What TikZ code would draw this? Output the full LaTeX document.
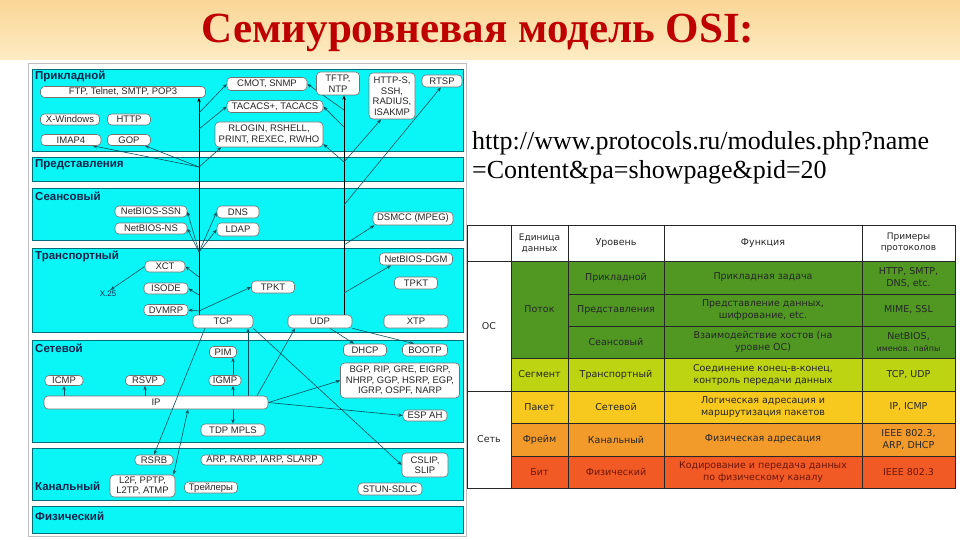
\documentclass[tikz,border=0pt]{standalone}
\usepackage{fontspec}
\setmainfont{Liberation Serif}
\newfontfamily\arialf{Liberation Sans}
\newfontfamily\verd{DejaVu Sans}
\usetikzlibrary{arrows.meta,calc}
\pgfdeclarelayer{back}
\pgfdeclarelayer{mid}
\pgfsetlayers{back,mid,main}
\definecolor{bandcyan}{RGB}{10,245,245}
\definecolor{bandedge}{RGB}{0,110,120}
\definecolor{lblnavy}{RGB}{15,35,75}
\definecolor{connc}{RGB}{5,80,95}
\definecolor{titlered}{RGB}{190,0,0}
\definecolor{bannertop}{RGB}{250,214,150}
\definecolor{bannerbot}{RGB}{253,236,196}
\definecolor{tgreen}{RGB}{80,152,34}
\definecolor{tlime}{RGB}{188,212,18}
\definecolor{tyellow}{RGB}{247,200,30}
\definecolor{torange}{RGB}{243,155,42}
\definecolor{tred}{RGB}{241,90,36}
\definecolor{redtext}{RGB}{110,22,10}
\tikzset{
  band/.style={fill=bandcyan, draw=bandedge, line width=0.7pt},
  bandlbl/.style={anchor=west, font=\arialf\bfseries\fontsize{11.5}{13}\selectfont, text=lblnavy, inner sep=0pt},
  proto/.style={draw=black!55, fill=white, rounded corners=4pt, line width=0.6pt, inner sep=0pt, align=center, font=\arialf\fontsize{9.5}{10.5}\selectfont, text=black!85},
  conn/.style={draw=connc, line width=0.6pt, -{Stealth[length=4.5pt,width=3.5pt]}},
  conn2/.style={draw=connc, line width=0.6pt, {Stealth[length=4.5pt,width=3.5pt]}-{Stealth[length=4.5pt,width=3.5pt]}},
  vline/.style={draw=black, line width=0.9pt, -{Stealth[length=4.5pt,width=3.5pt]}},
  cell/.style={draw=black!85, line width=0.8pt, inner sep=0pt, align=center, font=\verd\fontsize{9.5}{12}\selectfont, text=black!85},
}
\begin{document}
\begin{tikzpicture}[x=1pt,y=-1pt]
\useasboundingbox (0,0) rectangle (960,540);
\begin{pgfonlayer}{back}
\fill[white] (0,0) rectangle (960,540);
\shade[top color=bannertop, bottom color=bannerbot] (0,0) rectangle (960,60);
\draw[black!25] (28,63) rectangle (466,536);
\draw[band] (32,69) rectangle (463,151);
\draw[band] (32,157) rectangle (463,181);
\draw[band] (32,188) rectangle (463,240);
\draw[band] (32,248) rectangle (463,332);
\draw[band] (32,340) rectangle (463,442);
\draw[band] (32,448) rectangle (463,500);
\draw[band] (32,506) rectangle (463,533);
\end{pgfonlayer}
% title
\node[font=\bfseries\fontsize{43}{48}\selectfont, text=titlered] (title) at (478,33) {Семиуровневая модель OSI:};

% URL
\node[anchor=west, inner sep=0pt, font=\fontsize{26}{30}\selectfont] (url1) at (472,143) {http://www.protocols.ru/modules.php?name};
\node[anchor=west, inner sep=0pt, font=\fontsize{26}{30}\selectfont] (url2) at (472,172) {=Content\&pa=showpage\&pid=20};

\node[bandlbl] (lapp) at (35,76) {Прикладной};
\node[bandlbl] (lpres) at (35,165) {Представления};
\node[bandlbl] (lsess) at (35,196) {Сеансовый};
\node[bandlbl] (ltrans) at (35,256) {Транспортный};
\node[bandlbl] (lnet) at (35,348) {Сетевой};
\node[bandlbl] (llink) at (35,486) {Канальный};
\node[bandlbl] (lphys) at (35,516) {Физический};

% application
\node[proto, minimum width=165pt, minimum height=11pt] (ftp) at (123,92) {FTP, Telnet, SMTP, POP3};
\node[proto, minimum width=59pt, minimum height=11pt] (xwin) at (70,119.5) {X-Windows};
\node[proto, minimum width=43pt, minimum height=11pt] (http) at (129,119.5) {HTTP};
\node[proto, minimum width=60pt, minimum height=11pt] (imap) at (71,140) {IMAP4};
\node[proto, minimum width=43pt, minimum height=11pt] (gop) at (129,140) {GOP};
\node[proto, minimum width=80pt, minimum height=13pt] (cmot) at (267,84) {CMOT, SNMP};
\node[proto, minimum width=96pt, minimum height=12pt] (tacacs) at (275,106.5) {TACACS+, TACACS};
\node[proto, minimum width=108pt, minimum height=25pt] (rlogin) at (269,134.5) {RLOGIN, RSHELL,\\PRINT, REXEC, RWHO};
\node[proto, minimum width=43pt, minimum height=23pt] (tftp) at (338,83.5) {TFTP,\\NTP};
\node[proto, minimum width=46pt, minimum height=46pt] (https) at (392,96) {HTTP-S,\\SSH,\\RADIUS,\\ISAKMP};
\node[proto, minimum width=40pt, minimum height=12pt] (rtsp) at (442,81) {RTSP};
% session
\node[proto, minimum width=72pt, minimum height=11pt] (nbssn) at (151,211.5) {NetBIOS-SSN};
\node[proto, minimum width=72pt, minimum height=11pt] (nbns) at (151,228.5) {NetBIOS-NS};
\node[proto, minimum width=42pt, minimum height=12pt] (dns) at (238,212) {DNS};
\node[proto, minimum width=42pt, minimum height=13pt] (ldap) at (238,229.5) {LDAP};
\node[proto, minimum width=80pt, minimum height=13pt] (dsmcc) at (413,218.5) {DSMCC (MPEG)};
% transport
\node[proto, minimum width=40pt, minimum height=11pt] (xct) at (165,266.5) {XCT};
\node[proto, minimum width=44pt, minimum height=11pt] (isode) at (166,288.5) {ISODE};
\node[proto, minimum width=44pt, minimum height=11pt] (lvmrp) at (166,310) {DVMRP};
\node[inner sep=1pt, font=\arialf\fontsize{8}{9}\selectfont, text=lblnavy] (x25) at (108,294) {X.25};
\node[proto, minimum width=60pt, minimum height=13pt] (tcp) at (223,321.5) {TCP};
\node[proto, minimum width=64pt, minimum height=13pt] (udp) at (320,321.5) {UDP};
\node[proto, minimum width=64pt, minimum height=13pt] (xtp) at (416,321.5) {XTP};
\node[proto, minimum width=43pt, minimum height=12pt] (tpkt1) at (273,287) {TPKT};
\node[proto, minimum width=73pt, minimum height=12pt] (nbdgm) at (416,259) {NetBIOS-DGM};
\node[proto, minimum width=43pt, minimum height=12pt] (tpkt2) at (416,283) {TPKT};
% network
\node[proto, minimum width=27pt, minimum height=11pt] (pim) at (223,352) {PIM};
\node[proto, minimum width=38pt, minimum height=10pt] (icmp) at (64,380.5) {ICMP};
\node[proto, minimum width=39pt, minimum height=10pt] (rsvp) at (145,380.5) {RSVP};
\node[proto, minimum width=32pt, minimum height=10pt] (igmp) at (225,380.5) {IGMP};
\node[proto, minimum width=224pt, minimum height=13pt] (ip) at (156,402.5) {IP};
\node[proto, minimum width=43pt, minimum height=12pt] (dhcp) at (365,350) {DHCP};
\node[proto, minimum width=45pt, minimum height=12pt] (bootp) at (425,350) {BOOTP};
\node[proto, minimum width=119pt, minimum height=35pt] (bgp) at (400,380.5) {BGP, RIP, GRE, EIGRP,\\NHRP, GGP, HSRP, EGP,\\IGRP, OSPF, NARP};
\node[proto, minimum width=44pt, minimum height=11pt] (esp) at (425,415.5) {ESP AH};
\node[proto, minimum width=64pt, minimum height=12pt] (tdp) at (233,430) {TDP MPLS};
% link
\node[proto, minimum width=38pt, minimum height=10pt] (rsrb) at (154,460) {RSRB};
\node[proto, minimum width=65pt, minimum height=22pt] (l2f) at (142.5,486) {L2F, PPTP,\\L2TP, ATMP};
\node[proto, minimum width=53pt, minimum height=11pt] (trail) at (211,487.5) {Трейлеры};
\node[proto, minimum width=122pt, minimum height=10pt] (arp) at (262,460) {ARP, RARP, IARP, SLARP};
\node[proto, minimum width=46pt, minimum height=24pt] (cslip) at (425,465) {CSLIP,\\SLIP};
\node[proto, minimum width=64pt, minimum height=12pt] (stun) at (390,489) {STUN-SDLC};

% connectors
\begin{pgfonlayer}{mid}
\coordinate (va) at (199,315);
\coordinate (vb) at (344,315);
\draw[vline] (va) -- (va |- ftp.south);
\draw[vline] (vb) -- (vb |- tftp.south);
\coordinate (a1) at (199,113);
\coordinate (a2) at (199,129);
\coordinate (a3) at (199,167);
\coordinate (b1) at (344,110);
\coordinate (b2) at (344,127);
\coordinate (b3) at (344,162);
\coordinate (b4) at (344,205);
\coordinate (b5) at (344,245);
\coordinate (b6) at (344,293);
\coordinate (c1) at (199,252);
\coordinate (d1) at (199,277);
\coordinate (d2) at (199,295);
\coordinate (d3) at (199,311);
\draw[conn] (a1) -- (cmot.west);
\draw[conn] (a2) -- (tacacs.west);
\draw[conn] (a3) -- (rlogin.195);
\draw[conn] (a3) -- (imap.-15);
\draw[conn] (a3) -- (gop.-20);
\draw[conn] (b1) -- (cmot.east);
\draw[conn] (b2) -- (tacacs.east);
\draw[conn] (b3) -- (rlogin.-10);
\draw[conn] (b3) -- (https.-115);
\draw[conn] (b4) -- (rtsp.-100);
\draw[conn] (b5) -- (dsmcc.190);
\draw[conn] (b6) -- ([xshift=12pt]nbdgm.south west);
\draw[conn] (c1) -- (nbssn.east);
\draw[conn] (c1) -- (nbns.east);
\draw[conn] (c1) -- (dns.west);
\draw[conn] (c1) -- (ldap.west);
\draw[conn] (d1) -- (xct.east);
\draw[conn] (d2) -- (isode.east);
\draw[conn] (d3) -- (lvmrp.east);
\draw[conn] (d3) -- (tpkt1.west);
\draw[conn] (xct.west) -- (x25.60);
\draw[conn] (ip.north -| icmp) -- (icmp.south);
\draw[conn] (ip.north -| rsvp) -- (rsvp.south);
\draw[conn] (ip.north -| tdp) -- (igmp.south -| tdp);
\draw[conn] (igmp.north -| tdp) -- (pim.south -| tdp);
\draw[conn] (ip.south -| tdp) -- (tdp.north);
\coordinate (tcpx) at ([xshift=25pt]tcp.south);
\draw[conn] (ip.north -| tcpx) -- (tcpx);
\draw[conn] ([xshift=101pt]ip.north) -- ([xshift=-25pt]udp.south);
\draw[conn] ([xshift=10pt]udp.south) -- (dhcp.150);
\draw[conn] (udp.south east) -- (bootp.150);
\draw[conn] (tcp.south east) -- (cslip.west);
\draw[conn] (ip.east) -- (bgp.west);
\draw[conn] (ip.east) -- (esp.west);
\draw[conn2] ([xshift=32pt]ip.south) -- (l2f.20);
\end{pgfonlayer}
\draw[conn] ([xshift=-18pt]tcp.south) -- (rsrb.north);

% table
\node[cell, minimum width=44pt, minimum height=36pt, fill=white] (hblank) at (489,243) {};
\node[cell, minimum width=57pt, minimum height=36pt, fill=white, font=\verd\fontsize{9}{11}\selectfont] (hunit) at (539.5,243) {Единица\\данных};
\node[cell, minimum width=96pt, minimum height=36pt, fill=white] (hlevel) at (616,243) {Уровень};
\node[cell, minimum width=198pt, minimum height=36pt, fill=white] (hfunc) at (763,243) {Функция};
\node[cell, minimum width=93pt, minimum height=36pt, fill=white, font=\verd\fontsize{9}{11}\selectfont] (hex) at (908.5,243) {Примеры\\протоколов};

\node[cell, minimum width=44pt, minimum height=130pt, fill=white] (os) at (489,326) {ОС};
\node[cell, minimum width=57pt, minimum height=97pt, fill=tgreen] (potok) at (539.5,309.5) {Поток};
\node[cell, minimum width=96pt, minimum height=33pt, fill=tgreen] (l1) at (616,277.5) {Прикладной};
\node[cell, minimum width=198pt, minimum height=33pt, fill=tgreen] (f1) at (763,277.5) {Прикладная задача};
\node[cell, minimum width=93pt, minimum height=33pt, fill=tgreen] (e1) at (908.5,277.5) {HTTP, SMTP,\\DNS, etc.};
\node[cell, minimum width=96pt, minimum height=32pt, fill=tgreen] (l2) at (616,310) {Представления};
\node[cell, minimum width=198pt, minimum height=32pt, fill=tgreen] (f2) at (763,310) {Представление данных,\\шифрование, etc.};
\node[cell, minimum width=93pt, minimum height=32pt, fill=tgreen] (e2) at (908.5,310) {MIME, SSL};
\node[cell, minimum width=96pt, minimum height=32pt, fill=tgreen] (l3) at (616,342) {Сеансовый};
\node[cell, minimum width=198pt, minimum height=32pt, fill=tgreen] (f3) at (763,342) {Взаимодействие хостов (на\\уровне ОС)};
\node[cell, minimum width=93pt, minimum height=32pt, fill=tgreen] (e3) at (908.5,342) {NetBIOS,\\{\fontsize{8}{10}\selectfont именов. пайпы}};
\node[cell, minimum width=57pt, minimum height=33pt, fill=tlime] (segm) at (539.5,374.5) {Сегмент};
\node[cell, minimum width=96pt, minimum height=33pt, fill=tlime] (l4) at (616,374.5) {Транспортный};
\node[cell, minimum width=198pt, minimum height=33pt, fill=tlime] (f4) at (763,374.5) {Соединение конец-в-конец,\\контроль передачи данных};
\node[cell, minimum width=93pt, minimum height=33pt, fill=tlime] (e4) at (908.5,374.5) {TCP, UDP};

\node[cell, minimum width=44pt, minimum height=97pt, fill=white] (set) at (489,439.5) {Сеть};
\node[cell, minimum width=57pt, minimum height=32pt, fill=tyellow] (paket) at (539.5,407) {Пакет};
\node[cell, minimum width=96pt, minimum height=32pt, fill=tyellow] (l5) at (616,407) {Сетевой};
\node[cell, minimum width=198pt, minimum height=32pt, fill=tyellow] (f5) at (763,407) {Логическая адресация и\\маршрутизация пакетов};
\node[cell, minimum width=93pt, minimum height=32pt, fill=tyellow] (e5) at (908.5,407) {IP, ICMP};
\node[cell, minimum width=57pt, minimum height=33pt, fill=torange] (freim) at (539.5,439.5) {Фрейм};
\node[cell, minimum width=96pt, minimum height=33pt, fill=torange] (l6) at (616,439.5) {Канальный};
\node[cell, minimum width=198pt, minimum height=33pt, fill=torange] (f6) at (763,439.5) {Физическая адресация};
\node[cell, minimum width=93pt, minimum height=33pt, fill=torange] (e6) at (908.5,439.5) {IEEE 802.3,\\ARP, DHCP};
\node[cell, minimum width=57pt, minimum height=32pt, fill=tred, text=redtext] (bit) at (539.5,472) {Бит};
\node[cell, minimum width=96pt, minimum height=32pt, fill=tred, text=redtext] (l7) at (616,472) {Физический};
\node[cell, minimum width=198pt, minimum height=32pt, fill=tred, text=redtext] (f7) at (763,472) {Кодирование и передача данных\\по физическому каналу};
\node[cell, minimum width=93pt, minimum height=32pt, fill=tred, text=redtext] (e7) at (908.5,472) {IEEE 802.3};
\draw[black!85, line width=1.8pt] (potok.south west) -- (e3.south east);
\end{tikzpicture}
\end{document}
